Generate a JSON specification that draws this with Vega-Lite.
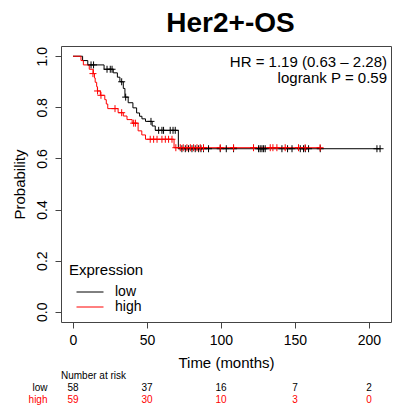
{
  "$schema": "https://vega.github.io/schema/vega-lite/v6.json",
  "width": 330,
  "height": 276,
  "autosize": {"type": "none"},
  "padding": {"left": 61, "top": 46, "right": 3, "bottom": 86},
  "background": "white",
  "config": {
    "font": "Liberation Sans",
    "view": {"stroke": "#444444", "strokeWidth": 1}
  },
  "title": {
    "text": "Her2+-OS",
    "fontSize": 28,
    "fontWeight": "bold",
    "font": "Liberation Sans",
    "color": "black",
    "anchor": "middle",
    "baseline": "alphabetic",
    "offset": -14,
    "dx": 4.5
  },
  "datasets": {
    "km": [
      {"group": "low", "kind": "step", "t": 0, "s": 1.0},
      {"group": "low", "kind": "step", "t": 6.5, "s": 0.983},
      {"group": "low", "kind": "step", "t": 10, "s": 0.966},
      {"group": "low", "kind": "step", "t": 21, "s": 0.949},
      {"group": "low", "kind": "step", "t": 27.2, "s": 0.935},
      {"group": "low", "kind": "step", "t": 30, "s": 0.918},
      {"group": "low", "kind": "step", "t": 31.7, "s": 0.9},
      {"group": "low", "kind": "step", "t": 34, "s": 0.874},
      {"group": "low", "kind": "step", "t": 35.1, "s": 0.84},
      {"group": "low", "kind": "step", "t": 37.3, "s": 0.818},
      {"group": "low", "kind": "step", "t": 40.5, "s": 0.798},
      {"group": "low", "kind": "step", "t": 43, "s": 0.778},
      {"group": "low", "kind": "step", "t": 45, "s": 0.765},
      {"group": "low", "kind": "step", "t": 46.6, "s": 0.755},
      {"group": "low", "kind": "step", "t": 49, "s": 0.745},
      {"group": "low", "kind": "step", "t": 53.5, "s": 0.727},
      {"group": "low", "kind": "step", "t": 55.6, "s": 0.71},
      {"group": "low", "kind": "step", "t": 71.2, "s": 0.638},
      {"group": "low", "kind": "step", "t": 207.5, "s": 0.638},
      {"group": "low", "kind": "censor", "t": 12.2, "s": 0.966},
      {"group": "low", "kind": "censor", "t": 13.9, "s": 0.966},
      {"group": "low", "kind": "censor", "t": 23, "s": 0.949},
      {"group": "low", "kind": "censor", "t": 25.2, "s": 0.949},
      {"group": "low", "kind": "censor", "t": 26.4, "s": 0.949},
      {"group": "low", "kind": "censor", "t": 32.9, "s": 0.9},
      {"group": "low", "kind": "censor", "t": 35.6, "s": 0.84},
      {"group": "low", "kind": "censor", "t": 52.7, "s": 0.745},
      {"group": "low", "kind": "censor", "t": 57.9, "s": 0.71},
      {"group": "low", "kind": "censor", "t": 60.1, "s": 0.71},
      {"group": "low", "kind": "censor", "t": 61.2, "s": 0.71},
      {"group": "low", "kind": "censor", "t": 65.7, "s": 0.71},
      {"group": "low", "kind": "censor", "t": 67.6, "s": 0.71},
      {"group": "low", "kind": "censor", "t": 69.1, "s": 0.71},
      {"group": "low", "kind": "censor", "t": 73.6, "s": 0.638},
      {"group": "low", "kind": "censor", "t": 75.9, "s": 0.638},
      {"group": "low", "kind": "censor", "t": 78.1, "s": 0.638},
      {"group": "low", "kind": "censor", "t": 80.4, "s": 0.638},
      {"group": "low", "kind": "censor", "t": 82.6, "s": 0.638},
      {"group": "low", "kind": "censor", "t": 84.9, "s": 0.638},
      {"group": "low", "kind": "censor", "t": 86.5, "s": 0.638},
      {"group": "low", "kind": "censor", "t": 88.2, "s": 0.638},
      {"group": "low", "kind": "censor", "t": 91.6, "s": 0.638},
      {"group": "low", "kind": "censor", "t": 99.5, "s": 0.638},
      {"group": "low", "kind": "censor", "t": 103.6, "s": 0.638},
      {"group": "low", "kind": "censor", "t": 108.5, "s": 0.638},
      {"group": "low", "kind": "censor", "t": 125.4, "s": 0.638},
      {"group": "low", "kind": "censor", "t": 126.5, "s": 0.638},
      {"group": "low", "kind": "censor", "t": 127.7, "s": 0.638},
      {"group": "low", "kind": "censor", "t": 128.8, "s": 0.638},
      {"group": "low", "kind": "censor", "t": 129.9, "s": 0.638},
      {"group": "low", "kind": "censor", "t": 141.2, "s": 0.638},
      {"group": "low", "kind": "censor", "t": 145, "s": 0.638},
      {"group": "low", "kind": "censor", "t": 148, "s": 0.638},
      {"group": "low", "kind": "censor", "t": 153.6, "s": 0.638},
      {"group": "low", "kind": "censor", "t": 155.8, "s": 0.638},
      {"group": "low", "kind": "censor", "t": 157, "s": 0.638},
      {"group": "low", "kind": "censor", "t": 159.2, "s": 0.638},
      {"group": "low", "kind": "censor", "t": 167.1, "s": 0.638},
      {"group": "low", "kind": "censor", "t": 205.4, "s": 0.638},
      {"group": "low", "kind": "censor", "t": 207.5, "s": 0.638},
      {"group": "high", "kind": "step", "t": 0, "s": 1.0},
      {"group": "high", "kind": "step", "t": 5.4, "s": 0.983},
      {"group": "high", "kind": "step", "t": 7, "s": 0.966},
      {"group": "high", "kind": "step", "t": 11, "s": 0.949},
      {"group": "high", "kind": "step", "t": 13.8, "s": 0.932},
      {"group": "high", "kind": "step", "t": 14.5, "s": 0.915},
      {"group": "high", "kind": "step", "t": 15, "s": 0.898},
      {"group": "high", "kind": "step", "t": 16, "s": 0.881},
      {"group": "high", "kind": "step", "t": 16.5, "s": 0.864},
      {"group": "high", "kind": "step", "t": 18.5, "s": 0.847},
      {"group": "high", "kind": "step", "t": 21.5, "s": 0.83},
      {"group": "high", "kind": "step", "t": 22.5, "s": 0.813},
      {"group": "high", "kind": "step", "t": 23.5, "s": 0.795},
      {"group": "high", "kind": "step", "t": 30.5, "s": 0.779},
      {"group": "high", "kind": "step", "t": 34, "s": 0.766},
      {"group": "high", "kind": "step", "t": 36.5, "s": 0.752},
      {"group": "high", "kind": "step", "t": 40, "s": 0.738},
      {"group": "high", "kind": "step", "t": 44, "s": 0.708},
      {"group": "high", "kind": "step", "t": 46.5, "s": 0.692},
      {"group": "high", "kind": "step", "t": 49, "s": 0.675},
      {"group": "high", "kind": "step", "t": 68.3, "s": 0.642},
      {"group": "high", "kind": "step", "t": 167, "s": 0.642},
      {"group": "high", "kind": "censor", "t": 13.5, "s": 0.932},
      {"group": "high", "kind": "censor", "t": 16.6, "s": 0.864},
      {"group": "high", "kind": "censor", "t": 18.9, "s": 0.847},
      {"group": "high", "kind": "censor", "t": 28.4, "s": 0.795},
      {"group": "high", "kind": "censor", "t": 32.9, "s": 0.779},
      {"group": "high", "kind": "censor", "t": 41, "s": 0.738},
      {"group": "high", "kind": "censor", "t": 42.2, "s": 0.738},
      {"group": "high", "kind": "censor", "t": 52.2, "s": 0.675},
      {"group": "high", "kind": "censor", "t": 54.5, "s": 0.675},
      {"group": "high", "kind": "censor", "t": 56.8, "s": 0.675},
      {"group": "high", "kind": "censor", "t": 60.1, "s": 0.675},
      {"group": "high", "kind": "censor", "t": 62.4, "s": 0.675},
      {"group": "high", "kind": "censor", "t": 64.6, "s": 0.675},
      {"group": "high", "kind": "censor", "t": 66.9, "s": 0.675},
      {"group": "high", "kind": "censor", "t": 69.5, "s": 0.642},
      {"group": "high", "kind": "censor", "t": 72.5, "s": 0.642},
      {"group": "high", "kind": "censor", "t": 74.5, "s": 0.642},
      {"group": "high", "kind": "censor", "t": 77, "s": 0.642},
      {"group": "high", "kind": "censor", "t": 79.3, "s": 0.642},
      {"group": "high", "kind": "censor", "t": 81.5, "s": 0.642},
      {"group": "high", "kind": "censor", "t": 83.8, "s": 0.642},
      {"group": "high", "kind": "censor", "t": 86, "s": 0.642},
      {"group": "high", "kind": "censor", "t": 88.2, "s": 0.642},
      {"group": "high", "kind": "censor", "t": 99.5, "s": 0.642},
      {"group": "high", "kind": "censor", "t": 108.5, "s": 0.642},
      {"group": "high", "kind": "censor", "t": 122, "s": 0.642},
      {"group": "high", "kind": "censor", "t": 133.3, "s": 0.642},
      {"group": "high", "kind": "censor", "t": 135.1, "s": 0.642},
      {"group": "high", "kind": "censor", "t": 137.8, "s": 0.642},
      {"group": "high", "kind": "censor", "t": 143.4, "s": 0.642},
      {"group": "high", "kind": "censor", "t": 152.4, "s": 0.642},
      {"group": "high", "kind": "censor", "t": 156.9, "s": 0.642},
      {"group": "high", "kind": "censor", "t": 167, "s": 0.642}
    ],
    "risk": [
      {"group": "low", "t": 0, "n": 58},
      {"group": "low", "t": 50, "n": 37},
      {"group": "low", "t": 100, "n": 16},
      {"group": "low", "t": 150, "n": 7},
      {"group": "low", "t": 200, "n": 2},
      {"group": "high", "t": 0, "n": 59},
      {"group": "high", "t": 50, "n": 30},
      {"group": "high", "t": 100, "n": 10},
      {"group": "high", "t": 150, "n": 3},
      {"group": "high", "t": 200, "n": 0}
    ],
    "stats": [
      {"hr": 1.19, "lower": 0.63, "upper": 2.28, "p": 0.59}
    ]
  },
  "layer": [
    {
      "layer": [
        {
          "data": {"name": "km"},
          "transform": [{"filter": "datum.kind == 'step'"}],
          "mark": {"type": "line", "interpolate": "step-after", "strokeWidth": 1},
          "encoding": {
            "x": {
              "field": "t",
              "type": "quantitative",
              "scale": {"domain": [-8.1, 214.9], "nice": false, "zero": false},
              "axis": {
                "values": [0, 50, 100, 150, 200],
                "title": "Time (months)",
                "tickSize": 6,
                "tickColor": "#444444",
                "labelPadding": 5.5,
                "labelFontSize": 14,
                "labelColor": "black",
                "labelFlush": false,
                "labelOverlap": false,
                "titleFontSize": 15,
                "titleFontWeight": "normal",
                "titleColor": "black",
                "titleBaseline": "alphabetic",
                "titleY": 45.5,
                "domain": false,
                "grid": false
              }
            },
            "y": {
              "field": "s",
              "type": "quantitative",
              "scale": {"domain": [-0.04, 1.04], "nice": false, "zero": false},
              "axis": {
                "values": [0, 0.2, 0.4, 0.6, 0.8, 1.0],
                "format": ".1f",
                "title": "Probability",
                "tickSize": 6,
                "tickColor": "#444444",
                "labelAngle": 270,
                "labelAlign": "center",
                "labelBaseline": "alphabetic",
                "labelPadding": 9,
                "labelFontSize": 14,
                "labelColor": "black",
                "labelFlush": false,
                "labelOverlap": false,
                "titleFontSize": 15,
                "titleFontWeight": "normal",
                "titleColor": "black",
                "titleAngle": 270,
                "titleBaseline": "alphabetic",
                "titleX": -36.5,
                "domain": false,
                "grid": false
              }
            },
            "color": {
              "field": "group",
              "type": "nominal",
              "scale": {"domain": ["low", "high"], "range": ["#000000", "#ff0000"]},
              "legend": {
                "title": "Expression",
                "orient": "none",
                "legendX": 8,
                "legendY": 217,
                "padding": 0,
                "titleFontSize": 15,
                "titleFontWeight": "normal",
                "titleColor": "black",
                "titlePadding": 7,
                "labelFontSize": 14,
                "labelColor": "black",
                "symbolType": "M-3,0H3",
                "symbolSize": 81,
                "symbolStrokeWidth": 1,
                "symbolOffset": 14,
                "labelOffset": 18,
                "rowPadding": 1
              }
            }
          }
        },
        {
          "data": {"name": "km"},
          "transform": [{"filter": "datum.kind == 'censor'"}],
          "mark": {"type": "point", "shape": "M0,-1V1M-1,0H1", "filled": false, "strokeWidth": 1, "size": 49, "opacity": 1},
          "encoding": {
            "x": {"field": "t", "type": "quantitative"},
            "y": {"field": "s", "type": "quantitative"},
            "color": {
              "field": "group",
              "type": "nominal",
              "scale": {"domain": ["low", "high"], "range": ["#000000", "#ff0000"]}
            }
          }
        },
        {
          "data": {"name": "stats"},
          "mark": {
            "type": "text",
            "text": ["HR = 1.19 (0.63 – 2.28)", "logrank P = 0.59"],
            "align": "right",
            "baseline": "alphabetic",
            "fontSize": 15,
            "lineHeight": 15.7,
            "dx": -4,
            "color": "black"
          },
          "encoding": {
            "x": {"value": "width"},
            "y": {"datum": 0.9566, "type": "quantitative"}
          }
        }
      ]
    },
    {
      "layer": [
        {
          "data": {"name": "risk"},
          "mark": {"type": "text", "fontSize": 10, "align": "center", "baseline": "alphabetic"},
          "encoding": {
            "x": {"field": "t", "type": "quantitative", "scale": {"domain": [-8.1, 214.9], "nice": false, "zero": false}},
            "y": {
              "field": "group",
              "type": "nominal",
              "scale": {"type": "point", "domain": ["Number at risk", "low", "high"], "range": [333, 357.3], "padding": 0},
              "axis": null
            },
            "text": {"field": "n", "type": "quantitative"},
            "color": {
              "field": "group",
              "type": "nominal",
              "scale": {"domain": ["low", "high"], "range": ["#000000", "#ff0000"]},
              "legend": null
            }
          }
        },
        {
          "data": {"name": "risk"},
          "transform": [{"filter": "datum.t == 0"}],
          "mark": {"type": "text", "fontSize": 10, "align": "right", "baseline": "alphabetic", "dx": -25.5},
          "encoding": {
            "x": {"field": "t", "type": "quantitative"},
            "y": {"field": "group", "type": "nominal"},
            "text": {"field": "group", "type": "nominal"},
            "color": {
              "field": "group",
              "type": "nominal",
              "scale": {"domain": ["low", "high"], "range": ["#000000", "#ff0000"]},
              "legend": null
            }
          }
        },
        {
          "data": {"name": "risk"},
          "transform": [{"filter": "datum.t == 0 && datum.group == 'low'"}],
          "mark": {"type": "text", "fontSize": 10, "align": "left", "baseline": "alphabetic", "dx": -12, "text": "Number at risk", "color": "black"},
          "encoding": {
            "x": {"field": "t", "type": "quantitative"},
            "y": {"datum": "Number at risk", "type": "nominal"}
          }
        }
      ]
    }
  ],
  "resolve": {"scale": {"y": "independent"}, "axis": {"y": "independent"}}
}
